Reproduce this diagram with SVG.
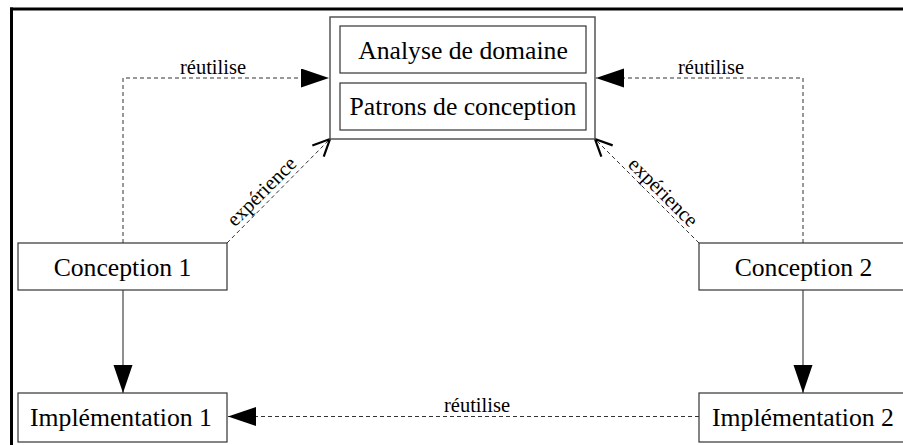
<svg xmlns="http://www.w3.org/2000/svg" width="903" height="445" viewBox="0 0 903 445">
<style>
.box{fill:#fff;stroke:#333;stroke-width:1.2}
.outer{fill:#fff;stroke:#555;stroke-width:1.5}
.t{font-family:'Liberation Serif','DejaVu Serif',serif;font-size:25.7px;fill:#000;text-anchor:middle}
.lbl{font-family:'Liberation Serif','DejaVu Serif',serif;font-size:20.5px;fill:#000;text-anchor:middle}
.dash{fill:none;stroke:#333;stroke-width:1;stroke-dasharray:4 3}
.solid{fill:none;stroke:#444;stroke-width:1.2}
</style>
<defs>
<marker id="tri" markerUnits="userSpaceOnUse" markerWidth="30" markerHeight="20" refX="28" refY="9.5" orient="auto">
<path d="M0,0 L28,9.5 L0,19 Z" fill="#000"/>
</marker>
<marker id="vee" markerUnits="userSpaceOnUse" markerWidth="22" markerHeight="22" refX="19" refY="10" orient="auto">
<path d="M2,2 L19,10 L2,18" fill="none" stroke="#000" stroke-width="2.2"/>
</marker>
</defs>
<g id="frame">
<line x1="10" y1="9" x2="903" y2="9" stroke="#000" stroke-width="3"/>
<line x1="11.5" y1="7.5" x2="11.5" y2="445" stroke="#000" stroke-width="3"/>
</g>
<g id="connectors">
<path class="dash" d="M123,243 V78 H329" marker-end="url(#tri)"/>
<path class="dash" d="M803,243 V78 H596" marker-end="url(#tri)"/>
<path class="dash" d="M699,416.5 H228" marker-end="url(#tri)"/>
<path class="solid" d="M123,290 V393" marker-end="url(#tri)"/>
<path class="solid" d="M803,290 V393" marker-end="url(#tri)"/>
<path class="dash" d="M227,243 L330,139" marker-end="url(#vee)"/>
<path class="dash" d="M699,243 L595,139" marker-end="url(#vee)"/>
<text class="lbl" font-family="'Liberation Serif', serif" x="213" y="74">réutilise</text>
<text class="lbl" font-family="'Liberation Serif', serif" x="711" y="74">réutilise</text>
<text class="lbl" font-family="'Liberation Serif', serif" x="477" y="412">réutilise</text>
<text class="lbl" font-family="'Liberation Serif', serif" transform="translate(266.4,196.2) rotate(-45)">expérience</text>
<text class="lbl" font-family="'Liberation Serif', serif" transform="translate(658.5,196.9) rotate(45)">expérience</text>
</g>
<g id="reuse-box">
<rect class="outer" x="330" y="17" width="265" height="122"/>
<g id="analyse">
<rect class="box" x="340" y="26" width="246" height="47"/>
<text class="t" font-family="'Liberation Serif', serif" x="463" y="59">Analyse de domaine</text>
</g>
<g id="patrons">
<rect class="box" x="340" y="83" width="246" height="47"/>
<text class="t" font-family="'Liberation Serif', serif" x="463" y="115">Patrons de conception</text>
</g>
</g>
<g id="conception1">
<rect class="box" x="18" y="243" width="209" height="47"/>
<text class="t" font-family="'Liberation Serif', serif" x="122.5" y="276">Conception 1</text>
</g>
<g id="conception2">
<rect class="box" x="699" y="243" width="209" height="47"/>
<text class="t" font-family="'Liberation Serif', serif" x="803.5" y="276">Conception 2</text>
</g>
<g id="impl1">
<rect class="box" x="18" y="393" width="209" height="49"/>
<text class="t" font-family="'Liberation Serif', serif" x="121" y="426">Implémentation 1</text>
</g>
<g id="impl2">
<rect class="box" x="699" y="393" width="209" height="49"/>
<text class="t" font-family="'Liberation Serif', serif" x="803" y="426">Implémentation 2</text>
</g>
</svg>
